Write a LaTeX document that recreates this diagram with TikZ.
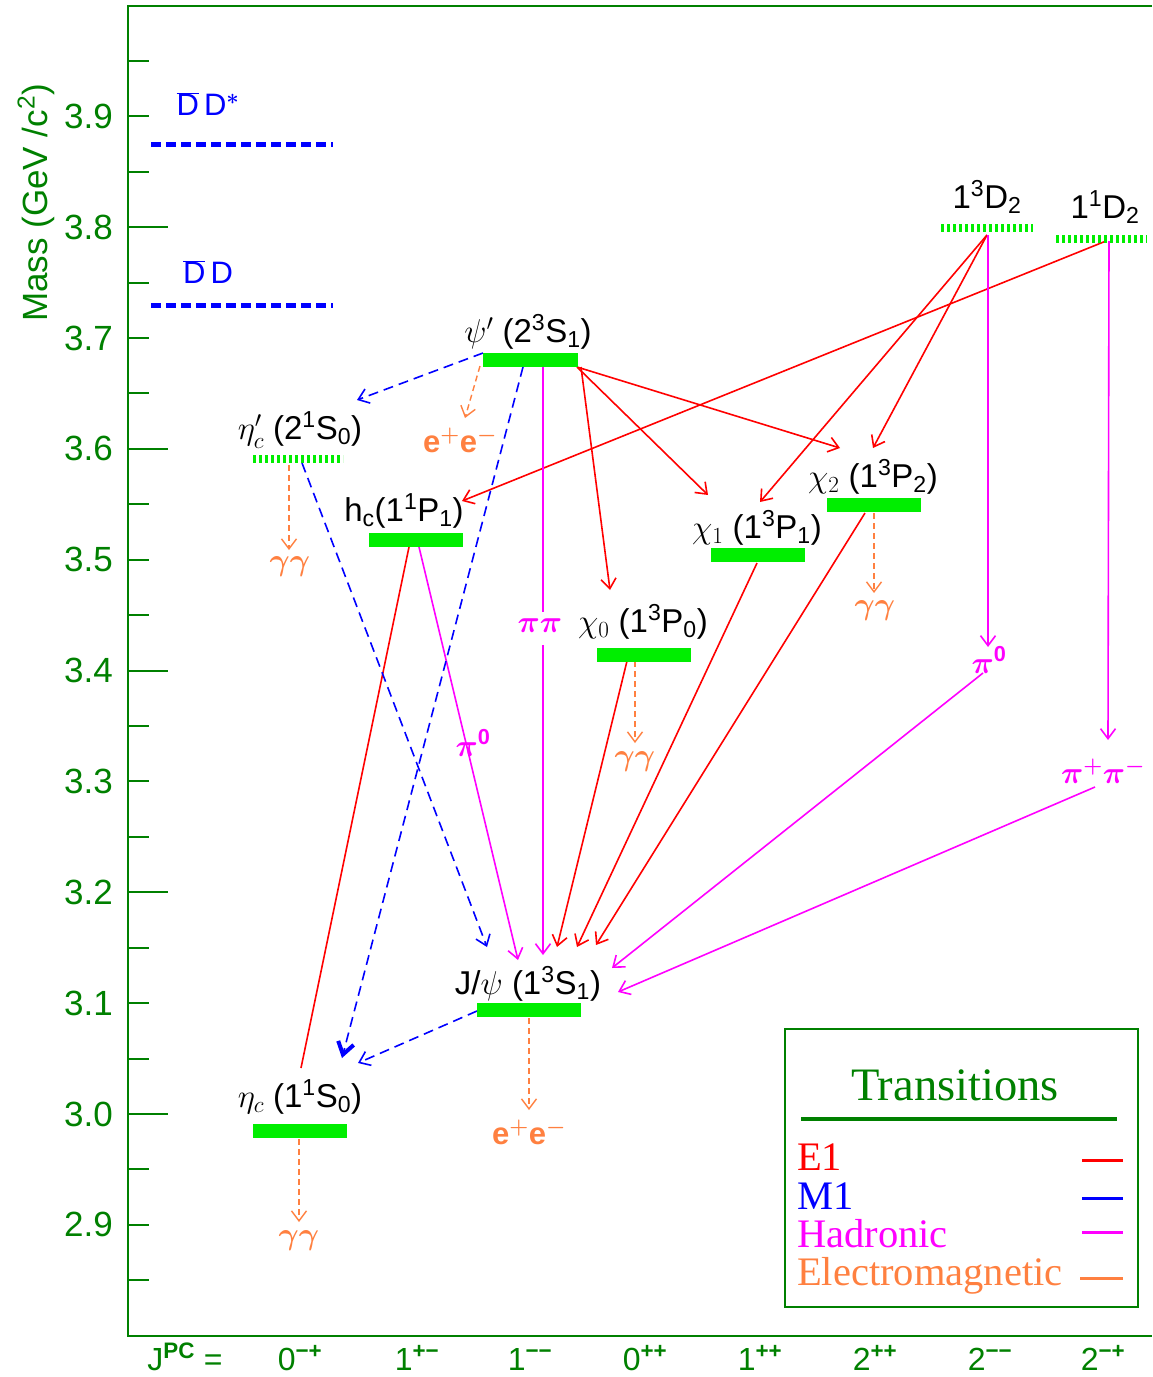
\documentclass[tikz,border=0pt]{standalone}
\usepackage{fix-cm}
\usepackage{bm}
\usepackage{fontspec}
\setmainfont{Liberation Sans}
\newfontfamily\legendfont{Liberation Serif}
\usetikzlibrary{arrows.meta}

\definecolor{axisgreen}{RGB}{0,128,0}
\definecolor{levelgreen}{RGB}{0,238,0}
\definecolor{colEone}{RGB}{255,0,0}
\definecolor{colMone}{RGB}{0,0,255}
\definecolor{colHad}{RGB}{255,0,255}
\definecolor{colEM}{RGB}{255,128,64}

\newcommand{\sps}[1]{\textsuperscript{#1}}
\newcommand{\sbs}[1]{\textsubscript{#1}}

\begin{document}
\begin{tikzpicture}[x=1pt,y=-1pt,
  ax/.style={draw=axisgreen,line width=2pt},
  tk/.style={draw=axisgreen,line width=2pt},
  axnum/.style={text=axisgreen,font=\fontsize{35}{40}\selectfont,anchor=east,inner sep=0pt},
  jpc/.style={text=axisgreen,font=\fontsize{32}{36}\selectfont,inner sep=0pt,anchor=base,text depth=0pt},
  bar/.style={fill=levelgreen,draw=none,minimum width=94pt,minimum height=14pt,inner sep=0pt},
  dotlvl/.style={draw=levelgreen,line width=8pt,dash pattern=on 3pt off 3pt},
  thr/.style={draw=colMone,line width=5pt,dash pattern=on 10pt off 5pt},
  lvl/.style={text=black,font=\fontsize{33}{37}\selectfont,inner sep=0pt},
  prod/.style={font=\fontsize{31}{35}\selectfont\bfseries,inner sep=0pt},
  vtip/.style={-{Straight Barb[length=10pt,width=15pt]}},
  transE/.style={draw=colEone,line width=1.6pt,vtip},
  transM/.style={draw=colMone,line width=1.6pt,dash pattern=on 10pt off 6pt,vtip},
  transH/.style={draw=colHad,line width=1.6pt,vtip},
  transEM/.style={draw=colEM,line width=1.4pt,dash pattern=on 6pt off 4pt,vtip},
  legtext/.style={font=\legendfont\fontsize{40.5}{45}\selectfont,anchor=west,inner sep=0pt},
  legline/.style={line width=3pt}
]
\useasboundingbox (0,0) rectangle (1152,1377);

% ---------- frame and mass axis ----------
\draw[ax] (1152,6) -- (128,6) -- (128,1336) -- (1152,1336);
\foreach \k in {0,...,22}{
  \pgfmathsetmacro\yy{round(1280.3-55.425*\k)}
  \pgfmathtruncatemacro\mj{mod(\k,4)}
  \ifnum\mj=3
    \draw[tk] (128,\yy) -- (168,\yy);
  \else
    \draw[tk] (128,\yy) -- (149,\yy);
  \fi
}
\foreach \v/\y in {2.9/1224.9,3.0/1114,3.1/1003.2,3.2/892.3,3.3/781.5,3.4/670.6,
                   3.5/559.8,3.6/448.9,3.7/338.1,3.8/227.2,3.9/116.4}
  \node[axnum] at (113,\y) {\v};
\node[text=axisgreen,font=\fontsize{35}{40}\selectfont,rotate=90,inner sep=0pt]
  (masslabel) at (36,203) {Mass (GeV /c\sps{2})};

% ---------- J^PC row ----------
\node[jpc] (jpcname) at (185,1370) {J\sps{\bfseries PC} =};
\foreach \x/\q in {300/0\sps{\bfseries −+},417/1\sps{\bfseries +−},530/1\sps{\bfseries −−},
                   645/0\sps{\bfseries ++},760/1\sps{\bfseries ++},875/2\sps{\bfseries ++},
                   990/2\sps{\bfseries −−},1103/2\sps{\bfseries −+}}
  \node[jpc] at (\x,1370) {\q};

% ---------- open-charm thresholds ----------
\draw[thr] (151,144) -- (333,144);
\draw[thr] (151,305) -- (333,305);
\node[prod,text=colMone,font=\fontsize{31}{34}\selectfont] (DDstar) at (208,104)
  {$\overline{\mbox{D}}$\,D$^{\bm *}$};
\node[prod,text=colMone,font=\fontsize{31}{34}\selectfont] (DDbar) at (208,272)
  {$\overline{\mbox{D}}$\,D};

% ---------- transition end points ----------
\coordinate (psiP-r)   at (577,367);
\coordinate (psiP-c0)  at (581,367);
\coordinate (psiP-l)   at (483,353);
\coordinate (psiP-em)  at (480,366);
\coordinate (psiP-m1)  at (523,367);
\coordinate (psiP-pp)  at (543,367);
\coordinate (D3-o)     at (987,235);
\coordinate (D3-h)     at (988,235);
\coordinate (D1-o)     at (1106,241);
\coordinate (D1-h)     at (1109,241);
\coordinate (hc-e1)    at (409,547);
\coordinate (hc-h)     at (419,547);
\coordinate (etacP-m1) at (302,463);
\coordinate (etacP-em) at (289,465);
\coordinate (chi0-e1)  at (627,661);
\coordinate (chi0-em)  at (635,661);
\coordinate (chi1-e1)  at (757,563);
\coordinate (chi2-e1)  at (865,513);
\coordinate (chi2-em)  at (874,513);
\coordinate (jpsi-m1)  at (477,1011);
\coordinate (jpsi-em)  at (529,1018);
\coordinate (etac-em)  at (299,1139);

\coordinate (in-chi2a) at (840,448);
\coordinate (in-chi1a) at (708,495);
\coordinate (in-chi0)  at (610,590);
\coordinate (in-hc)    at (462,501);
\coordinate (in-chi1b) at (760,502);
\coordinate (in-chi2b) at (873,448);
\coordinate (in-etacE) at (301,1068);
\coordinate (in-jpsiA) at (557,947);
\coordinate (in-jpsiB) at (577,947);
\coordinate (in-jpsiC) at (596,945);
\coordinate (in-jpsiD) at (518,960);
\coordinate (in-jpsiE) at (543,955);
\coordinate (in-jpsiF) at (612,968);
\coordinate (in-jpsiG) at (618,992);
\coordinate (in-jpsiH) at (487,947);
\coordinate (in-etacP) at (357,400);
\coordinate (in-etacA) at (342,1058);
\coordinate (in-etacB) at (358,1063);
\coordinate (in-pizero) at (988,647);
\coordinate (in-pipm)  at (1108,740);
\coordinate (out-pizero) at (983,673);
\coordinate (out-pipm) at (1095,787);
\coordinate (pp-a)     at (543,612);
\coordinate (pp-b)     at (543,645);

\coordinate (in-emA) at (465,418);
\coordinate (in-emB) at (289,550);
\coordinate (in-emC) at (874,593);
\coordinate (in-emD) at (635,743);
\coordinate (in-emE) at (529,1110);
\coordinate (in-emF) at (299,1222);

% ---------- E1 transitions ----------
\draw[transE] (psiP-r) -- (in-chi2a);
\draw[transE] (psiP-r) -- (in-chi1a);
\draw[transE] (psiP-c0) -- (in-chi0);
\draw[transE] (D1-o) -- (in-hc);
\draw[transE] (D3-o) -- (in-chi1b);
\draw[transE] (D3-o) -- (in-chi2b);
\draw[draw=colEone,line width=1.6pt] (hc-e1) -- (in-etacE);
\draw[transE] (chi0-e1) -- (in-jpsiA);
\draw[transE] (chi1-e1) -- (in-jpsiB);
\draw[transE] (chi2-e1) -- (in-jpsiC);

% ---------- hadronic transitions ----------
\draw[draw=colHad,line width=1.6pt] (psiP-pp) -- (pp-a);
\draw[transH] (pp-b) -- (in-jpsiE);
\node[prod,text=colHad] (pipi) at (540,626) {$\bm{\pi\pi}$};
\draw[transH] (hc-h) -- (in-jpsiD);
\node[prod,text=colHad] (pizeroA) at (473,743) {$\bm{\pi}^{\mathbf{0}}$};
\draw[transH] (D3-h) -- (in-pizero);
\node[prod,text=colHad] (pizeroB) at (989,660) {$\bm{\pi}^{\mathbf{0}}$};
\draw[transH] (out-pizero) -- (in-jpsiF);
\draw[transH] (D1-h) -- (in-pipm);
\node[prod,text=colHad] (pipm) at (1103,771) {$\bm{\pi}^{\bm +}\bm{\pi}^{\bm -}$};
\draw[transH] (out-pipm) -- (in-jpsiG);

% ---------- M1 transitions ----------
\draw[transM] (psiP-l) -- (in-etacP);
\draw[draw=colMone,line width=1.6pt,dash pattern=on 10pt off 6pt,
      -{Straight Barb[length=12pt,width=16pt,line width=4pt]}] (psiP-m1) -- (in-etacA);
\draw[transM] (etacP-m1) -- (in-jpsiH);
\draw[transM] (jpsi-m1) -- (in-etacB);

% ---------- electromagnetic decays ----------
\draw[transEM] (psiP-em) -- (in-emA);
\node[prod,text=colEM] (eeA) at (460,440) {e$^{\bm +}$e$^{\bm -}$};
\draw[transEM] (etacP-em) -- (in-emB);
\node[prod,text=colEM] (ggA) at (290,567) {$\bm{\gamma\gamma}$};
\draw[transEM] (chi2-em) -- (in-emC);
\node[prod,text=colEM] (ggB) at (875,611) {$\bm{\gamma\gamma}$};
\draw[transEM] (chi0-em) -- (in-emD);
\node[prod,text=colEM] (ggC) at (635,762) {$\bm{\gamma\gamma}$};
\draw[transEM] (jpsi-em) -- (in-emE);
\node[prod,text=colEM] (eeB) at (529,1132) {e$^{\bm +}$e$^{\bm -}$};
\draw[transEM] (etac-em) -- (in-emF);
\node[prod,text=colEM] (ggD) at (299,1241) {$\bm{\gamma\gamma}$};

% ---------- charmonium levels ----------
\draw[dotlvl] (253,459) -- (343,459);
\draw[dotlvl] (941,228) -- (1033,228);
\draw[dotlvl] (1056,239) -- (1147,239);
\node[bar,minimum width=95pt] (psiP) at (530,359.5) {};
\node[bar] (hc)   at (416,539.5) {};
\node[bar] (chi0) at (644,654.5) {};
\node[bar] (chi1) at (758,555) {};
\node[bar] (chi2) at (873.5,504.5) {};
\node[bar,minimum width=104pt] (jpsi) at (529,1010) {};
\node[bar] (etac) at (300,1131) {};

\node[lvl] (etacPlab) at (300,430) {$\eta_c'$ (2\sps{1}S\sbs{0})};
\node[lvl] (psiPlab)  at (528,332) {$\psi'$ (2\sps{3}S\sbs{1})};
\node[lvl] (hclab)    at (404,511) {h\sbs{c}(1\sps{1}P\sbs{1})};
\node[lvl] (chi1lab)  at (757,528) {$\chi_1$ (1\sps{3}P\sbs{1})};
\node[lvl] (chi2lab)  at (873,477) {$\chi_2$ (1\sps{3}P\sbs{2})};
\node[lvl] (chi0lab)  at (643,622) {$\chi_0$ (1\sps{3}P\sbs{0})};
\node[lvl] (Dthreelab) at (987,197) {1\sps{3}D\sbs{2}};
\node[lvl] (Donelab)  at (1105,207) {1\sps{1}D\sbs{2}};
\node[lvl] (jpsilab)  at (528,984) {J/$\psi$ (1\sps{3}S\sbs{1})};
\node[lvl] (etaclab)  at (300,1097) {$\eta_c$ (1\sps{1}S\sbs{0})};

% ---------- legend ----------
\node[draw=axisgreen,line width=2pt,minimum width=353pt,minimum height=278pt,
      inner sep=0pt,anchor=north west] (legend) at (784,1028) {};
\node[font=\legendfont\fontsize{46.5}{50}\selectfont,text=axisgreen,inner sep=0pt]
  (legtitle) at (955,1085) {Transitions};
\draw[axisgreen,line width=3.5pt] (801,1119) -- (1117,1119);
\node[legtext,text=colEone] (legE) at (797,1157) {E1};
\node[legtext,text=colMone] (legM) at (797,1196) {M1};
\node[legtext,text=colHad]  (legH) at (797,1234) {Hadronic};
\node[legtext,text=colEM]   (legEM) at (797,1276) {Electromagnetic};
\draw[legline,colEone] (1082,1160) -- (1123,1160);
\draw[legline,colMone] (1082,1198) -- (1123,1198);
\draw[legline,colHad]  (1082,1232) -- (1123,1232);
\draw[legline,colEM]   (1080,1278) -- (1123,1278);
\end{tikzpicture}
\end{document}
